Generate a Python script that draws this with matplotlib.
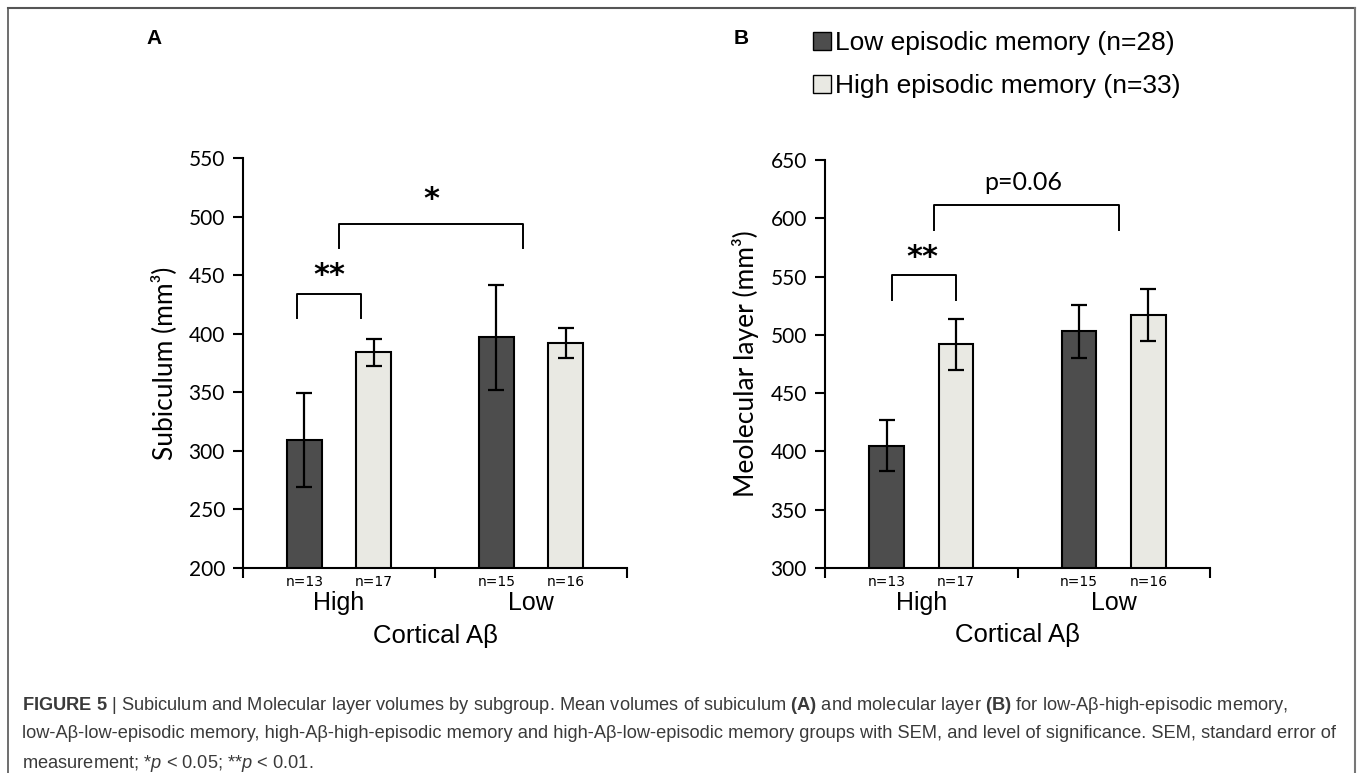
import matplotlib.pyplot as plt
from matplotlib.patches import Patch
from matplotlib.lines import Line2D
from matplotlib.transforms import blended_transform_factory

plt.rcParams["font.family"] = ["Liberation Sans", "DejaVu Sans"]
plt.rcParams["mathtext.fontset"] = "custom"
plt.rcParams["mathtext.rm"] = "Liberation Sans"
plt.rcParams["mathtext.bf"] = "Liberation Sans:bold"
plt.rcParams["mathtext.it"] = "Liberation Sans:italic"

# data
groups = ["High", "Low"]
n_low_mem = ["n=13", "n=15"]
n_high_mem = ["n=17", "n=16"]

sub_low = [309, 397]
sub_low_sem = [40, 45]
sub_high = [384, 392]
sub_high_sem = [11.5, 13]

mol_low = [405, 503]
mol_low_sem = [22, 23]
mol_high = [492, 517]
mol_high_sem = [22, 22]

legend_labels = ["Low episodic memory (n=28)", "High episodic memory (n=33)"]

DARK = "#4d4d4d"
LIGHT = "#e9e9e3"
W = 0.18

fig = plt.figure(figsize=(13.57, 7.73), dpi=100)


def panel(rect, low, low_sem, high, high_sem, ylim, yticks, ylabel, brackets):
    ax = fig.add_axes(rect)
    centers = [0.5, 1.5]
    xl = [c - W for c in centers]
    xh = [c + W for c in centers]
    ekw = dict(elinewidth=1.6, capthick=1.6, ecolor="black")
    ax.bar(xl, low, W, color=DARK, edgecolor="black", linewidth=1.5,
           yerr=low_sem, capsize=6, error_kw=ekw, zorder=2)
    ax.bar(xh, high, W, color=LIGHT, edgecolor="black", linewidth=1.5,
           yerr=high_sem, capsize=6, error_kw=ekw, zorder=2)
    ax.set_xlim(0, 2)
    ax.set_ylim(*ylim)
    ax.set_yticks(yticks)
    ax.tick_params(axis="y", direction="out", length=7, width=1.5,
                   labelsize=15, pad=6)
    for t in ax.get_yticklabels():
        t.set_family("Lato")
    ax.set_xticks([0, 1, 2])
    ax.set_xticklabels([])
    ax.tick_params(axis="x", which="major", direction="out", length=7, width=1.5)
    ax.set_xticks(xl + xh, minor=True)
    ax.set_xticklabels([n_low_mem[0], n_low_mem[1], n_high_mem[0], n_high_mem[1]],
                       minor=True, fontsize=10, family="DejaVu Sans")
    ax.tick_params(axis="x", which="minor", length=0, pad=5)
    for s in ["top", "right"]:
        ax.spines[s].set_visible(False)
    for s in ["left", "bottom"]:
        ax.spines[s].set_linewidth(1.5)
    ax.set_ylabel(ylabel, fontsize=19, family="Lato", labelpad=8)
    tr = blended_transform_factory(ax.transData, ax.transAxes)
    for c, g in zip(centers, groups):
        ax.text(c, -0.085, g, transform=tr, ha="center", va="center", fontsize=18)
    ax.text(0.5, -0.165, "Cortical Aβ", transform=ax.transAxes, ha="center",
            va="center", fontsize=18.5)
    for x0, x1, yl, yt, tx, ty, label, fs, fam in brackets:
        ax.plot([x0, x0, x1, x1], [yl, yt, yt, yl], color="black", lw=1.4,
                clip_on=False)
        ax.text(tx, ty, label, ha="center", va="center", fontsize=fs,
                family=fam, weight="bold" if "*" in label else "normal")
    return ax


axA = panel([243 / 1357, 1 - 568 / 773, 384 / 1357, 410 / 773],
            sub_low, sub_low_sem, sub_high, sub_high_sem,
            (200, 550), range(200, 551, 50), "Subiculum (mm³)",
            [(0.281, 0.615, 413, 434, 0.448, 450, "**", 22, "DejaVu Sans"),
             (0.498, 1.456, 473, 494, 0.983, 515, "*", 22, "DejaVu Sans")])

axB = panel([825 / 1357, 1 - 568 / 773, 385 / 1357, 408 / 773],
            mol_low, mol_low_sem, mol_high, mol_high_sem,
            (300, 650), range(300, 651, 50), "Meolecular layer (mm³)",
            [(0.35, 0.68, 530, 551, 0.504, 566, "**", 22, "DejaVu Sans"),
             (0.564, 1.525, 590, 611, 1.03, 631, "p=0.06", 18, "Lato")])

handles = [Patch(facecolor=DARK, edgecolor="black", linewidth=1),
           Patch(facecolor=LIGHT, edgecolor="black", linewidth=1)]
fig.legend(handles, legend_labels, loc="upper left",
           bbox_to_anchor=(813 / 1357, 1 - 31 / 773), frameon=False, fontsize=19,
           handlelength=0.7, handleheight=0.7, handletextpad=0.15,
           labelspacing=0.72, borderpad=0, borderaxespad=0)

fig.text(154 / 1357, 1 - 38 / 773, "A", fontsize=15, weight="bold",
         ha="center", va="center")
fig.text(741 / 1357, 1 - 38 / 773, "B", fontsize=15, weight="bold",
         ha="center", va="center")

# frame
fc = "#555555"
fig.add_artist(Line2D([8 / 1357, 1355 / 1357], [1 - 8 / 773] * 2,
                      transform=fig.transFigure, color=fc, lw=1.5))
fig.add_artist(Line2D([8 / 1357] * 2, [0, 1 - 8 / 773],
                      transform=fig.transFigure, color=fc, lw=1.2))
fig.add_artist(Line2D([1355 / 1357] * 2, [0, 1 - 8 / 773],
                      transform=fig.transFigure, color="#777777", lw=1.5))

cap = [
    r"$\mathbf{FIGURE\ 5}$ | Subiculum and Molecular layer volumes by subgroup. Mean volumes of subiculum "
    r"$\mathbf{(A)}$ and molecular layer $\mathbf{(B)}$ for low-Aβ-high-episodic memory,",
    "low-Aβ-low-episodic memory, high-Aβ-high-episodic memory and high-Aβ-low-episodic memory "
    "groups with SEM, and level of significance. SEM, standard error of",
    r"measurement; *$\mathit{p}$ < 0.05; **$\mathit{p}$ < 0.01.",
]
for i, line in enumerate(cap):
    fig.text(22 / 1357, 1 - (705 + 29 * i) / 773, line, fontsize=13.15,
             color="#3a3a3a", ha="left", va="center")

fig.savefig("out.png", dpi=100)
